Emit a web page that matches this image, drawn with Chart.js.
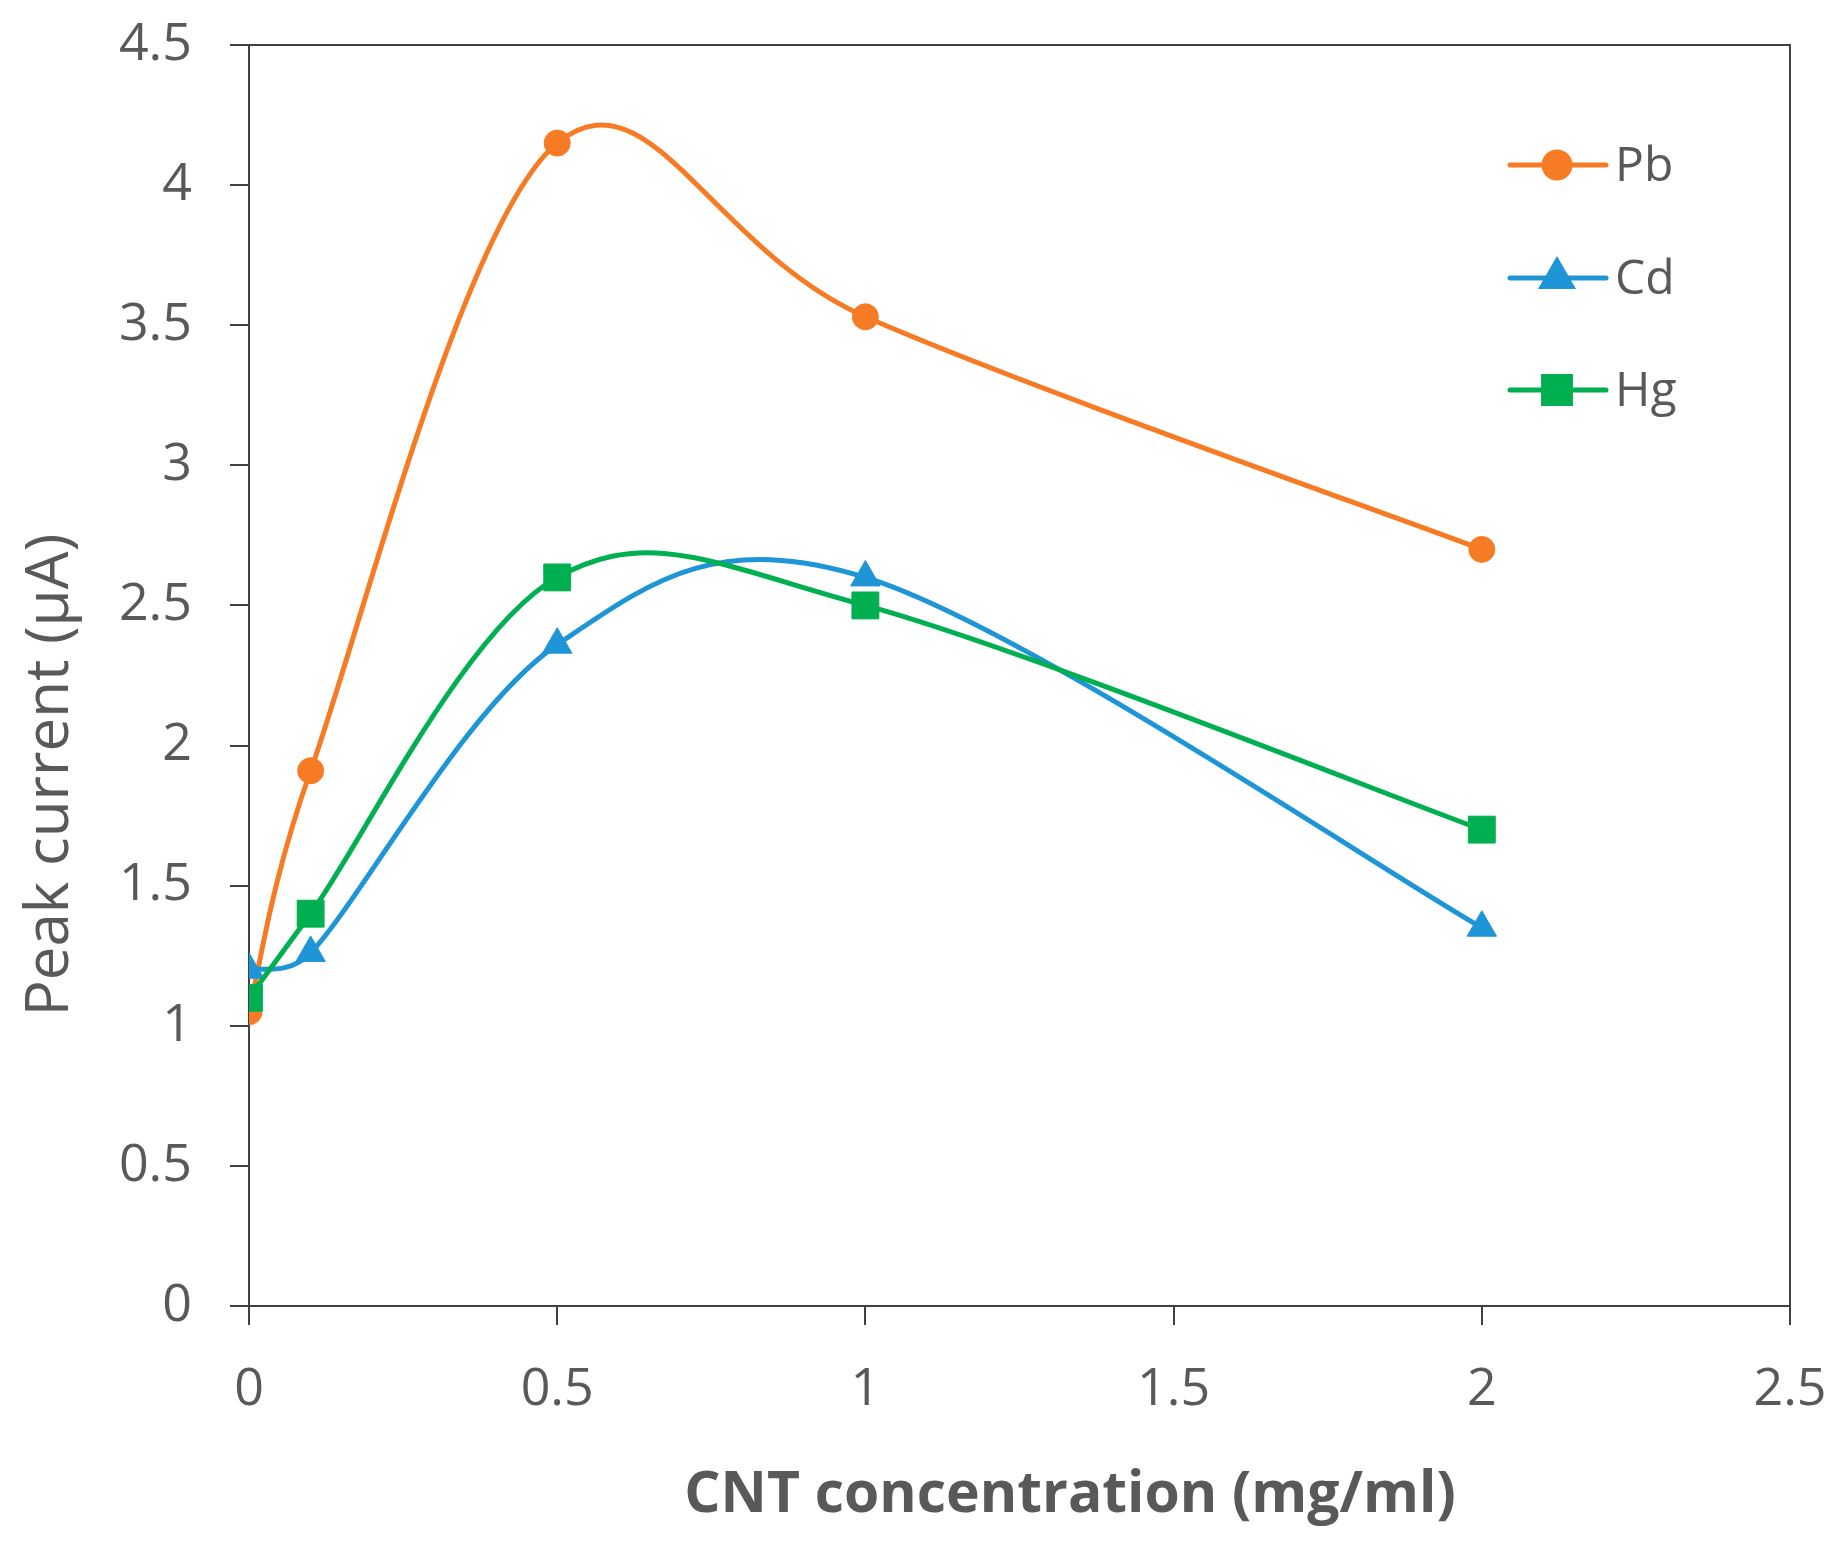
<!DOCTYPE html>
<html><head><meta charset="utf-8">
<script src="https://cdn.jsdelivr.net/npm/chart.js@4"></script>
<style>html,body{margin:0;padding:0;background:#fff;overflow:hidden}</style>
</head><body>
<canvas id="c" width="1841" height="1550" style="width:1841px;height:1550px;display:block"></canvas>
<script>
// ---- data ----
const xValues = [0, 0.1, 0.5, 1, 2];
const pbValues = [1.05, 1.91, 4.15, 3.53, 2.70];
const cdValues = [1.20, 1.26, 2.36, 2.60, 1.35];
const hgValues = [1.10, 1.40, 2.60, 2.50, 1.70];
const seriesNames = ['Pb', 'Cd', 'Hg'];
const xTickLabels = ['0', '0.5', '1', '1.5', '2', '2.5'];
const yTickLabels = ['0', '0.5', '1', '1.5', '2', '2.5', '3', '3.5', '4', '4.5'];
const xTitle = 'CNT concentration (mg/ml)';
const yTitle = 'Peak current (\u00B5A)';

// ---- styles ----
const colors = ['#F77B24', '#1E95D6', '#00AF4F'];
const styles = ['circle', 'triangle', 'rect'];
const radii = [13, 17, 19];
const textColor = '#595959';
const axisColor = '#404040';
const FONT = '"Open Sans", "Noto Sans", sans-serif';

function pts(ys) { return xValues.map((x, i) => ({ x: x, y: ys[i] })); }
const seriesValues = [pbValues, cdValues, hgValues];

const datasets = seriesNames.map((name, i) => ({
  label: name,
  data: pts(seriesValues[i]),
  borderColor: colors[i],
  backgroundColor: colors[i],
  borderWidth: 5,
  tension: 0.4,
  pointStyle: styles[i],
  pointRadius: radii[i],
  pointHoverRadius: radii[i],
  pointBorderWidth: 1,
  pointBackgroundColor: colors[i],
  pointBorderColor: colors[i],
  order: 2 - i,
  fill: false
}));

// Excel-style smoothing: control arm = 1/6 of neighbour span, limited to half the adjacent segment
const smoothing = {
  id: 'smoothing',
  beforeDatasetsDraw(chart) {
    chart.getSortedVisibleDatasetMetas().forEach(meta => {
      const line = meta.dataset;
      if (!line) return;
      line.updateControlPoints(chart.chartArea, 'x');
      const p = meta.data;
      const n = p.length;
      const dist = (a, b) => Math.hypot(a.x - b.x, a.y - b.y);
      for (let i = 0; i < n; i++) {
        const prev = p[Math.max(i - 1, 0)];
        const next = p[Math.min(i + 1, n - 1)];
        let dx = (next.x - prev.x) / 6;
        let dy = (next.y - prev.y) / 6;
        const arm = Math.hypot(dx, dy);
        let k1 = 1, k2 = 1;
        if (arm > 0) {
          const lp = dist(p[i], prev) / 2;
          const ln = dist(p[i], next) / 2;
          if (i > 0 && arm > lp) k1 = lp / arm;
          if (i < n - 1 && arm > ln) k2 = ln / arm;
        }
        p[i].cp1x = p[i].x - dx * k1; p[i].cp1y = p[i].y - dy * k1;
        p[i].cp2x = p[i].x + dx * k2; p[i].cp2y = p[i].y + dy * k2;
      }
    });
  }
};

const decor = {
  id: 'decor',
  afterDraw(chart) {
    const ctx = chart.ctx;
    const a = chart.chartArea;
    ctx.save();
    ctx.strokeStyle = axisColor;
    ctx.lineWidth = 2;
    ctx.beginPath();
    ctx.moveTo(a.left, a.top);
    ctx.lineTo(a.right, a.top);
    ctx.lineTo(a.right, a.bottom);
    ctx.stroke();

    // legend
    const ly = [165, 278, 390];
    seriesNames.forEach((name, i) => {
      ctx.strokeStyle = colors[i];
      ctx.fillStyle = colors[i];
      ctx.lineWidth = 5;
      ctx.lineCap = 'round';
      ctx.beginPath();
      ctx.moveTo(1510, ly[i]);
      ctx.lineTo(1606, ly[i]);
      ctx.stroke();
      Chart.helpers.drawPoint(ctx, { pointStyle: styles[i], rotation: 0, radius: radii[i], borderWidth: 1 }, 1557, ly[i]);
      ctx.fillStyle = textColor;
      ctx.font = '48px ' + FONT;
      ctx.textAlign = 'left';
      ctx.textBaseline = 'middle';
      ctx.fillText(name, 1615, ly[i] + 2);
    });

    // axis titles
    ctx.fillStyle = textColor;
    ctx.font = 'bold 57px ' + FONT;
    ctx.textAlign = 'center';
    ctx.textBaseline = 'alphabetic';
    ctx.fillText(xTitle, 1070, 1512);

    ctx.save();
    ctx.translate(68, 775);
    ctx.rotate(-Math.PI / 2);
    ctx.font = '60px ' + FONT;
    ctx.fillText(yTitle, 0, 0);
    ctx.restore();
    ctx.restore();
  }
};

new Chart(document.getElementById('c'), {
  type: 'line',
  data: { datasets: datasets },
  options: {
    responsive: false,
    animation: false,
    devicePixelRatio: 1,
    layout: { padding: { top: 45, right: 51, left: 0, bottom: 0 } },
    plugins: { legend: { display: false }, tooltip: { enabled: false } },
    scales: {
      x: {
        type: 'linear',
        min: 0, max: 2.5,
        afterFit(s) { s.height = 244; s.paddingLeft = 0; s.paddingRight = 0; s.paddingTop = 0; s.paddingBottom = 0; },
        afterBuildTicks(s) { s.ticks = xTickLabels.map(v => ({ value: parseFloat(v) })); },
        ticks: {
          padding: 34,
          color: textColor,
          font: { family: FONT, size: 52 },
          maxRotation: 0,
          callback: (v) => xTickLabels.find(t => parseFloat(t) === v) ?? ''
        },
        grid: { drawOnChartArea: false, drawTicks: true, tickLength: 19, color: axisColor, lineWidth: 2 },
        border: { display: true, color: axisColor, width: 2 }
      },
      y: {
        min: 0, max: 4.5,
        afterFit(s) { s.width = 249; s.paddingLeft = 0; s.paddingRight = 0; s.paddingTop = 0; s.paddingBottom = 0; },
        afterBuildTicks(s) { s.ticks = yTickLabels.map(v => ({ value: parseFloat(v) })); },
        ticks: {
          padding: 38,
          color: textColor,
          font: { family: FONT, size: 52 },
          callback: (v) => yTickLabels.find(t => parseFloat(t) === v) ?? ''
        },
        grid: { drawOnChartArea: false, drawTicks: true, tickLength: 19, color: axisColor, lineWidth: 2 },
        border: { display: true, color: axisColor, width: 2 }
      }
    }
  },
  plugins: [smoothing, decor]
});
</script>
</body></html>
